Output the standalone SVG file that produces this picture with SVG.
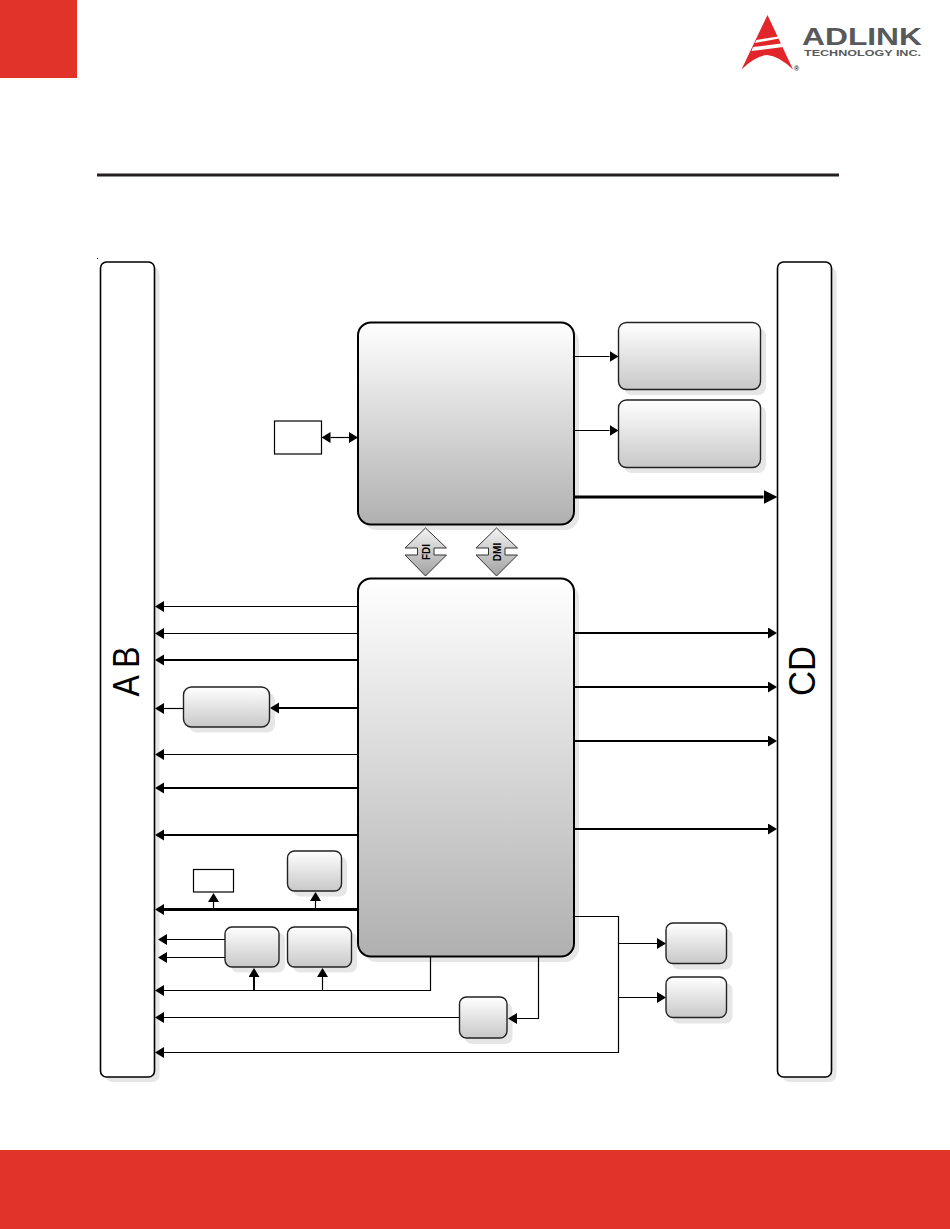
<svg xmlns="http://www.w3.org/2000/svg" width="950" height="1229" viewBox="0 0 950 1229">
<style>
.bar{fill:#fff;stroke:#000;stroke-width:1.6}
.sh{fill:#e6e6e6}
.big{fill:url(#gb);stroke:#000;stroke-width:2}
.sm{fill:url(#gs);stroke:#222;stroke-width:1.4}
.pl{fill:#fff;stroke:#000;stroke-width:1.2}
.c{fill:none;stroke:#000;stroke-width:1.2}
.t2{stroke-width:2}
.t3{stroke-width:3}
.ar{marker-end:url(#m)}
.ab{marker-end:url(#b)}
.lab{font-family:"Liberation Sans",Arial,sans-serif;fill:#000}
.dia{fill:url(#gd);stroke:#333;stroke-width:1}
</style>
<defs>
<linearGradient id="gb" x1="0" y1="0" x2="0" y2="1"><stop offset="0" stop-color="#ffffff"/><stop offset="1" stop-color="#b0b0b0"/></linearGradient>
<linearGradient id="gs" x1="0" y1="0" x2="0" y2="1"><stop offset="0" stop-color="#ffffff"/><stop offset="1" stop-color="#c8c8c8"/></linearGradient>
<linearGradient id="gd" x1="0" y1="0" x2="0" y2="1"><stop offset="0" stop-color="#f4f4f4"/><stop offset="1" stop-color="#a0a0a0"/></linearGradient>
<marker id="m" markerUnits="userSpaceOnUse" markerWidth="10" markerHeight="12" refX="0" refY="5.500" orient="auto"><path d="M0 0L9 5.500L0 11z" fill="#000"/></marker>
<marker id="ms" markerUnits="userSpaceOnUse" markerWidth="10" markerHeight="12" refX="9" refY="5.500" orient="auto"><path d="M9 0L0 5.500L9 11z" fill="#000"/></marker>
<marker id="b" markerUnits="userSpaceOnUse" markerWidth="15" markerHeight="15" refX="0" refY="7" orient="auto"><path d="M0 0L14 7L0 14z" fill="#000"/></marker>
</defs>
<rect width="950" height="1229" fill="#fff"/>
<g id="page">
<rect x="0" y="0" width="77" height="78" fill="#e1332a"/>
<rect x="0" y="1150" width="950" height="79" fill="#e1332a"/>
<rect x="97" y="173.500" width="742" height="3" fill="#231f20"/>
<rect x="97" y="258" width="1" height="1" fill="#000"/>
</g>
<g id="logo">
<path d="M767.500 15L793 69.500Q779 56 767 55Q755 56 741.500 69.500z" fill="#e1252b"/>
<path d="M756.500 40L778 36.500L779 38.500L755 43zM753 47L781 43.500L783 47L751.500 51z" fill="#fff"/>
<text x="802" y="45" font-family="'Liberation Sans',Arial,sans-serif" font-weight="700" font-size="23" fill="#58595b" textLength="120" lengthAdjust="spacingAndGlyphs">ADLINK</text>
<text x="804" y="56" font-family="'Liberation Sans',Arial,sans-serif" font-weight="700" font-size="9" fill="#58595b" textLength="117" lengthAdjust="spacingAndGlyphs">TECHNOLOGY INC.</text>
<text x="794" y="71" font-family="'Liberation Sans',Arial,sans-serif" font-weight="700" font-size="7" fill="#333">®</text>
</g>
<g id="bar-ab">
<rect class="sh" x="105.500" y="267" width="54" height="815" rx="7"/>
<rect class="bar" x="100.500" y="262" width="54" height="815" rx="6"/>
<text class="lab" font-size="36" text-anchor="middle" textLength="50" lengthAdjust="spacingAndGlyphs" transform="translate(139,671.500) rotate(-90)">A B</text>
</g>
<g id="bar-cd">
<rect class="sh" x="782.500" y="267" width="54" height="815" rx="7"/>
<rect class="bar" x="777.500" y="262" width="54" height="815" rx="6"/>
<text class="lab" font-size="36" text-anchor="middle" textLength="50" lengthAdjust="spacingAndGlyphs" transform="translate(815,671) rotate(-90)">CD</text>
</g>
<g id="box-top"><rect class="sh" x="363" y="328" width="216" height="202" rx="14"/><rect class="big" x="358" y="322.500" width="216" height="202" rx="13"/></g>
<g id="box-main"><rect class="sh" x="363" y="584" width="216" height="378" rx="14"/><rect class="big" x="358" y="578.500" width="216" height="378" rx="13"/></g>
<g id="box-r1"><rect class="sh" x="624" y="328" width="142" height="67" rx="8"/><rect class="sm" x="618.500" y="322.500" width="142" height="67" rx="8"/></g>
<g id="box-r2"><rect class="sh" x="624" y="405.500" width="142" height="67.500" rx="8"/><rect class="sm" x="618.500" y="400" width="142" height="67.500" rx="8"/></g>
<g id="box-sq"><rect class="pl" x="274.500" y="421" width="47" height="33"/></g>
<g id="box-l1"><rect class="sh" x="189" y="692.500" width="86" height="40" rx="8"/><rect class="sm" x="183.500" y="687" width="86" height="40" rx="8"/></g>
<g id="box-small-rect"><rect class="pl" x="193.500" y="869.500" width="40" height="22.500"/></g>
<g id="box-l2"><rect class="sh" x="293" y="856.500" width="54" height="40" rx="7"/><rect class="sm" x="287.500" y="851" width="54" height="40" rx="7"/></g>
<g id="box-l3"><rect class="sh" x="231" y="932.500" width="54" height="40" rx="7"/><rect class="sm" x="225" y="927" width="54" height="40" rx="7" stroke-width="1.800"/></g>
<g id="box-l4"><rect class="sh" x="293" y="932.500" width="64" height="40" rx="7"/><rect class="sm" x="287.500" y="927" width="64" height="40" rx="7"/></g>
<g id="box-b1"><rect class="sh" x="465" y="1003" width="47.500" height="41" rx="7"/><rect class="sm" x="459.500" y="997" width="47.500" height="41" rx="7"/></g>
<g id="box-b2"><rect class="sh" x="672" y="929" width="60.500" height="40.500" rx="7"/><rect class="sm" x="666" y="923" width="60.500" height="40.500" rx="7"/></g>
<g id="box-b3"><rect class="sh" x="672" y="983" width="60.500" height="40.500" rx="7"/><rect class="sm" x="666" y="977" width="60.500" height="40.500" rx="7"/></g>
<g id="fdi">
<path class="dia" d="M425.500 528L446.500 548H434V555H446.500L425.500 576L405 555H417.500V548H405z"/>
<text class="lab" font-size="10" font-weight="700" text-anchor="middle" transform="translate(430,552) rotate(-90)">FDI</text>
</g>
<g id="dmi">
<path class="dia" d="M496.500 528L517.500 548H505V555H517.500L496.500 576L476 555H488.500V548H476z"/>
<text class="lab" font-size="10" font-weight="700" text-anchor="middle" transform="translate(500.500,552) rotate(-90)">DMI</text>
</g>
<g id="connectors">
<path class="c" marker-start="url(#ms)" marker-end="url(#m)" d="M330.500 437.500H349"/>
<path class="c ar" d="M574 356.500H609.500"/>
<path class="c ar" d="M574 430.500H609.500"/>
<path class="c t3 ab" d="M574 497H763.500"/>
<path class="c ar" d="M358 606.500H164"/>
<path class="c ar" d="M358 633.500H164"/>
<path class="c t2 ar" d="M358 660H164"/>
<path class="c t2 ar" d="M358 708H279"/>
<path class="c ar" d="M183.500 708.500H164"/>
<path class="c ar" d="M358 754.500H164"/>
<path class="c t2 ar" d="M358 788H164"/>
<path class="c t2 ar" d="M358 835H164"/>
<path class="c t3 ar" d="M358 909.500H164"/>
<path class="c ar" d="M213.500 909V902"/>
<path class="c ar" d="M315.500 909V901"/>
<path class="c ar" d="M225 939.500H167"/>
<path class="c ar" d="M225 957.500H167"/>
<path class="c ar" d="M430.500 956.500V990.500H164"/>
<path class="c t2 ar" d="M254 990V977"/>
<path class="c ar" d="M322.500 990V977"/>
<path class="c ar" d="M459 1017.500H164"/>
<path class="c ar" d="M538.500 956.500V1018.500H517"/>
<path class="c ar" d="M574 916.500H618.500V1052.500H164"/>
<path class="c ar" d="M618.500 943.500H657"/>
<path class="c ar" d="M618.500 997.500H657"/>
<path class="c t2 ar" d="M574 633H768"/>
<path class="c t2 ar" d="M574 687H768"/>
<path class="c t2 ar" d="M574 741H768"/>
<path class="c t2 ar" d="M574 829H768"/>
</g>
</svg>
